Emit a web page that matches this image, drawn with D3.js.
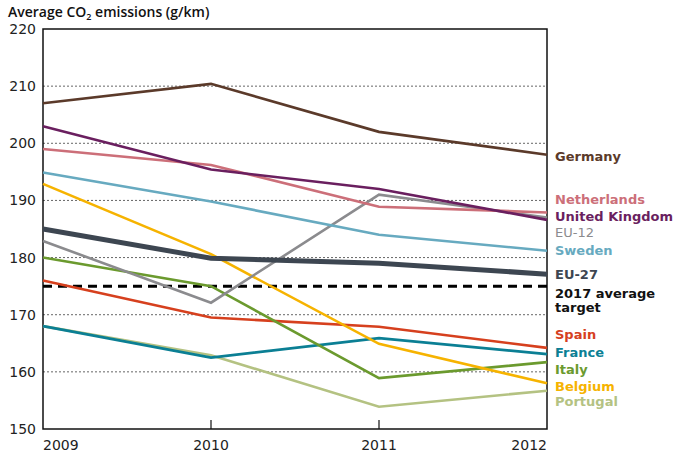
<!DOCTYPE html>
<html>
<head>
<meta charset="utf-8">
<script src="https://cdn.jsdelivr.net/npm/d3@7"></script>
<style>
  html, body { margin: 0; padding: 0; background: #fff; }
  svg { display: block; font-family: "DejaVu Sans", "Open Sans", sans-serif; }
</style>
</head>
<body>
<svg id="chart" width="683" height="457"></svg>
<script>
// Average CO2 emissions of new cars (g/km), 2009–2012
const years = [2009, 2010, 2011, 2012];
const yTicks = [150, 160, 170, 180, 190, 200, 210, 220];
const target2017 = 175;

const germany       = [207.0, 210.4, 202.0, 198.0];
const unitedKingdom = [203.0, 195.4, 192.0, 186.6];
const netherlands   = [199.0, 196.2, 188.9, 187.9];
const sweden        = [194.9, 189.8, 184.0, 181.2];
const belgium       = [192.9, 180.6, 164.9, 158.0];
const eu27          = [185.0, 179.9, 179.0, 177.1];
const eu12          = [182.9, 172.1, 191.0, 187.0];
const italy         = [180.0, 175.0, 158.9, 161.7];
const spain         = [176.0, 169.5, 167.9, 164.2];
const france        = [168.0, 162.5, 165.9, 163.1];
const portugal      = [168.0, 162.9, 153.9, 156.7];

const seriesList = [
  { name: "Portugal",       values: portugal,      color: "#b4c282" },
  { name: "France",         values: france,        color: "#0b7f94" },
  { name: "Spain",          values: spain,         color: "#d6401e" },
  { name: "Italy",          values: italy,         color: "#6b9a2e" },
  { name: "Belgium",        values: belgium,       color: "#f6b300" },
  { name: "EU-12",          values: eu12,          color: "#8b8b8e" },
  { name: "Sweden",         values: sweden,        color: "#67aac0" },
  { name: "Netherlands",    values: netherlands,   color: "#cc6f79" },
  { name: "United Kingdom", values: unitedKingdom, color: "#6a1f5f" },
  { name: "Germany",        values: germany,       color: "#5b3a2a" },
  { name: "EU-27",          values: eu27,          color: "#3d4651", wide: true }
];

const svg = d3.select("#chart");
const margin = { left: 43, right: 136, top: 29, bottom: 28 };
const W = 683, H = 457;

const x = d3.scaleLinear().domain([2009, 2012]).range([margin.left, W - margin.right]);
const y = d3.scaleLinear().domain([150, 220]).range([H - margin.bottom, margin.top]);

// dotted gridlines
svg.append("g")
  .selectAll("line")
  .data(yTicks.filter(t => t > 150 && t < 220))
  .join("line")
  .attr("x1", x(2009)).attr("x2", x(2012))
  .attr("y1", d => y(d)).attr("y2", d => y(d))
  .attr("stroke", "#666")
  .attr("stroke-width", 1)
  .attr("stroke-dasharray", "2,2");

// frame
svg.append("rect")
  .attr("x", x(2009)).attr("y", y(220))
  .attr("width", x(2012) - x(2009)).attr("height", y(150) - y(220))
  .attr("fill", "none").attr("stroke", "#111").attr("stroke-width", 1.5);

// y axis labels
svg.append("g")
  .selectAll("text")
  .data(yTicks)
  .join("text")
  .attr("x", 36)
  .attr("y", d => y(d))
  .attr("dy", "0.36em")
  .attr("text-anchor", "end")
  .attr("font-size", 14)
  .attr("fill", "#222")
  .text(d => d);

// x axis inner ticks and labels
svg.append("g")
  .selectAll("line")
  .data(years.slice(1, -1))
  .join("line")
  .attr("x1", d => x(d)).attr("x2", d => x(d))
  .attr("y1", y(150)).attr("y2", y(150) - 9)
  .attr("stroke", "#111").attr("stroke-width", 1.2);

svg.append("g")
  .selectAll("text")
  .data(years)
  .join("text")
  .attr("x", d => x(d))
  .attr("y", H - 7)
  .attr("text-anchor", (d, i) => i === 0 ? "start" : i === years.length - 1 ? "end" : "middle")
  .attr("font-size", 14)
  .attr("fill", "#222")
  .text(d => d);

// 2017 target line
svg.append("line")
  .attr("x1", x(2009)).attr("x2", x(2012))
  .attr("y1", y(target2017)).attr("y2", y(target2017))
  .attr("stroke", "#000")
  .attr("stroke-width", 3)
  .attr("stroke-dasharray", "9,6");

// series lines
const line = d3.line()
  .x((d, i) => x(years[i]))
  .y(d => y(d));

svg.append("g")
  .selectAll("path")
  .data(seriesList)
  .join("path")
  .attr("d", d => line(d.values))
  .attr("fill", "none")
  .attr("stroke", d => d.color)
  .attr("stroke-width", d => d.wide ? 5 : 2.6)
  .attr("stroke-linejoin", "miter");

// right-hand labels, placed at a value on the y scale
const labelAt = {
  "Germany": 197.8, "Netherlands": 190.2, "United Kingdom": 187.2, "EU-12": 184.4,
  "Sweden": 181.2, "EU-27": 177.1, "Spain": 166.5, "France": 163.4,
  "Italy": 160.4, "Belgium": 157.5, "Portugal": 154.8
};
const labelX = x(2012) + 8;

svg.append("g")
  .selectAll("text")
  .data(seriesList)
  .join("text")
  .attr("x", labelX)
  .attr("y", d => y(labelAt[d.name]))
  .attr("dy", "0.36em")
  .attr("font-size", 13)
  .attr("font-weight", d => d.name === "EU-12" ? 400 : 700)
  .attr("fill", d => d.color)
  .text(d => d.name);

const tgt = svg.append("text")
  .attr("x", labelX)
  .attr("y", y(173.7))
  .attr("dy", "0.36em")
  .attr("font-size", 13)
  .attr("font-weight", 700)
  .attr("fill", "#111");
tgt.append("tspan").text("2017 average");
tgt.append("tspan").attr("x", labelX).attr("dy", "1.05em").text("target");

// title
const title = svg.append("text")
  .attr("x", 8).attr("y", 17)
  .attr("font-family", "'Open Sans', sans-serif")
  .attr("font-size", 14)
  .attr("font-weight", 600)
  .attr("fill", "#111");
title.append("tspan").text("Average CO");
title.append("tspan").attr("font-size", 9).attr("dy", 3).text("2");
title.append("tspan").attr("dy", -3).text(" emissions (g/km)");
</script>
</body>
</html>
